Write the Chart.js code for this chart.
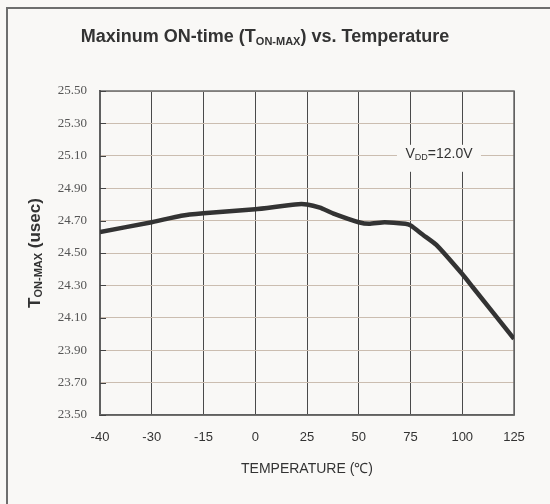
<!DOCTYPE html>
<html>
<head>
<meta charset="utf-8">
<script src="https://cdn.jsdelivr.net/npm/chart.js@4.4.1/dist/chart.umd.min.js"></script>
<style>
  html, body { margin: 0; padding: 0; background: #f9f8f6; }
  #wrap { width: 550px; height: 504px; }
</style>
</head>
<body>
<div id="wrap"><canvas id="chart" width="550" height="504"></canvas></div>
<script>
// x positions are in "tick slot" units: the temperature axis is evenly spaced
// per label, not proportional to degrees
const tempLabels = ["-40", "-30", "-15", "0", "25", "50", "75", "100", "125"]
const slotPos = [0, 1, 1.57, 2, 3, 3.77, 4, 4.25, 4.5, 5, 5.2, 5.5, 5.9, 6, 6.25, 6.5, 7, 7.2, 8]
const tonMax = [24.63, 24.69, 24.73, 24.745, 24.77, 24.80, 24.80, 24.78, 24.745, 24.69, 24.68, 24.69, 24.68, 24.67, 24.61, 24.55, 24.37, 24.29, 23.97]

const yMin = 23.5
const yMax = 25.5
const yStep = 0.2

const noteSlot = 6.55
const noteValue = 25.1

const BG = "#f9f8f6"
const INK = "#333333"

// draw a run of text pieces (some as subscripts) centred on x,y
function richText(ctx, parts, x, y) {
  let total = 0
  parts.forEach((p) => { ctx.font = p.font; total += ctx.measureText(p.text).width })
  let cx = x - total / 2
  ctx.textAlign = "left"
  ctx.textBaseline = "middle"
  parts.forEach((p) => {
    ctx.font = p.font
    ctx.fillText(p.text, cx, y + (p.dy || 0))
    cx += ctx.measureText(p.text).width
  })
  return total
}

const decor = {
  id: "decor",
  beforeDraw(chart) {
    const ctx = chart.ctx
    ctx.save()
    ctx.fillStyle = BG
    ctx.fillRect(0, 0, chart.width, chart.height)
    ctx.strokeStyle = "#6e6e6e"
    ctx.lineWidth = 2
    ctx.beginPath()
    ctx.moveTo(7, chart.height)
    ctx.lineTo(7, 8)
    ctx.lineTo(chart.width, 8)
    ctx.stroke()
    ctx.restore()
  },
  beforeDatasetsDraw(chart) {
    const ctx = chart.ctx
    const a = chart.chartArea
    const y = chart.scales.y
    const x = chart.scales.x
    ctx.save()
    // frame
    ctx.strokeStyle = "#6a6a6a"
    ctx.lineWidth = 1.5
    ctx.strokeRect(a.left, a.top, a.right - a.left, a.bottom - a.top)
    // inward tick marks on the value axis
    ctx.strokeStyle = "#444"
    ctx.lineWidth = 1
    y.ticks.forEach((t) => {
      const py = Math.round(y.getPixelForValue(t.value)) + 0.5
      ctx.beginPath()
      ctx.moveTo(a.left, py)
      ctx.lineTo(a.left + 6, py)
      ctx.stroke()
    })
    // note box (hides the grid behind the label)
    const nx = x.getPixelForValue(noteSlot)
    const ny = y.getPixelForValue(noteValue)
    ctx.fillStyle = BG
    ctx.fillRect(nx - 42, ny - 11, 84, 27)
    ctx.fillStyle = INK
    richText(ctx, [
      { text: "V", font: "14px Arial" },
      { text: "DD", font: "9px Arial", dy: 4 },
      { text: "=12.0V", font: "14px Arial" }
    ], nx, ny - 2)
    ctx.restore()
  },
  afterDraw(chart) {
    const ctx = chart.ctx
    const a = chart.chartArea
    ctx.save()
    ctx.fillStyle = INK
    richText(ctx, [
      { text: "Maxinum ON-time (T", font: "bold 18px Arial" },
      { text: "ON-MAX", font: "bold 11px Arial", dy: 5 },
      { text: ") vs. Temperature", font: "bold 18px Arial" }
    ], 265, 37)

    richText(ctx, [{ text: "TEMPERATURE (℃)", font: "14px Arial" }], (a.left + a.right) / 2, 469)

    ctx.translate(35, (a.top + a.bottom) / 2)
    ctx.rotate(-Math.PI / 2)
    richText(ctx, [
      { text: "T", font: "bold 17px Arial" },
      { text: "ON-MAX", font: "bold 11px Arial", dy: 4 },
      { text: " (usec)", font: "bold 17px Arial" }
    ], 0, 0)
    ctx.restore()
  }
}

new Chart(document.getElementById("chart"), {
  type: "line",
  data: {
    datasets: [{
      label: "TON-MAX",
      data: slotPos.map((p, i) => ({ x: p, y: tonMax[i] })),
      borderColor: INK,
      borderWidth: 4.5,
      pointRadius: 0,
      tension: 0.15,
      fill: false
    }]
  },
  options: {
    responsive: false,
    animation: false,
    events: [],
    layout: { padding: { left: 0, top: 91, right: 36, bottom: 0 } },
    plugins: { legend: { display: false }, tooltip: { enabled: false }, title: { display: false } },
    scales: {
      x: {
        type: "linear",
        min: 0,
        max: tempLabels.length - 1,
        afterFit: (s) => { s.height = 89 },
        afterBuildTicks: (s) => { s.ticks = tempLabels.map((_, i) => ({ value: i })) },
        grid: { color: "#4a4a4a", lineWidth: 1, drawTicks: false },
        border: { color: "#444", width: 1.5 },
        ticks: {
          padding: 15,
          color: INK,
          font: { family: "Arial", size: 13 },
          maxRotation: 0,
          autoSkip: false,
          callback: (v) => tempLabels[v]
        }
      },
      y: {
        min: yMin,
        max: yMax,
        afterFit: (s) => { s.width = 100 },
        afterBuildTicks: (s) => {
          const t = []
          for (let v = yMin; v <= yMax + 1e-9; v += yStep) t.push({ value: Math.round(v * 100) / 100 })
          s.ticks = t
        },
        grid: { color: "#cbbdb0", lineWidth: 1, drawTicks: false },
        border: { color: "#444", width: 2 },
        ticks: {
          padding: 13,
          color: "#555",
          font: { family: "Liberation Serif", size: 13 },
          callback: (v) => Number(v).toFixed(2)
        }
      }
    }
  },
  plugins: [decor]
})
</script>
</body>
</html>
